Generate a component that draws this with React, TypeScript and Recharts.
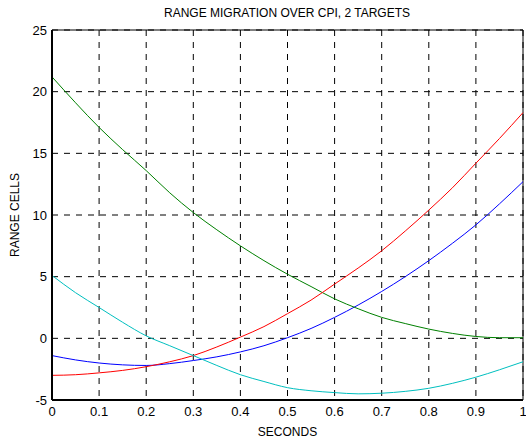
import React from "react";
import { LineChart, Line, XAxis, YAxis, CartesianGrid, ReferenceArea, Label } from "recharts";

const seconds = [0, 0.05, 0.1, 0.15, 0.2, 0.25, 0.3, 0.35, 0.4, 0.45, 0.5, 0.55, 0.6, 0.65, 0.7, 0.75, 0.8, 0.85, 0.9, 0.95, 1.0];
const blueSeries = [-1.4, -1.75, -2.0, -2.15, -2.2, -2.05, -1.8, -1.5, -1.1, -0.6, 0.05, 0.8, 1.7, 2.7, 3.8, 5.0, 6.3, 7.7, 9.2, 10.9, 12.7];
const greenSeries = [21.2, 19.1, 17.1, 15.3, 13.6, 11.8, 10.2, 8.8, 7.5, 6.3, 5.2, 4.2, 3.2, 2.4, 1.7, 1.2, 0.75, 0.4, 0.15, 0.05, 0.05];
const redSeries = [-3.0, -2.95, -2.8, -2.6, -2.3, -1.9, -1.4, -0.7, 0.1, 0.95, 2.0, 3.1, 4.4, 5.7, 7.1, 8.7, 10.4, 12.2, 14.2, 16.2, 18.3];
const cyanSeries = [5.1, 3.7, 2.5, 1.3, 0.2, -0.6, -1.4, -2.2, -2.95, -3.5, -4.0, -4.25, -4.4, -4.5, -4.45, -4.3, -4.05, -3.65, -3.15, -2.55, -1.9];

const xTicks = [0, 0.1, 0.2, 0.3, 0.4, 0.5, 0.6, 0.7, 0.8, 0.9, 1];
const yTicks = [-5, 0, 5, 10, 15, 20, 25];

const data = seconds.map((t, i) => ({
  t,
  blue: blueSeries[i],
  green: greenSeries[i],
  red: redSeries[i],
  cyan: cyanSeries[i],
}));

const font = "'Liberation Sans', Arial, Helvetica, sans-serif";

export default function App() {
  return (
    <div style={{ position: "absolute", left: 0, top: 0, width: 526, height: 441, background: "#fff" }}>
      <LineChart width={526} height={441} data={data} margin={{ top: 30, right: 3, bottom: 0, left: 0 }}>
        <text x={287} y={17} textAnchor="middle" fontFamily={font} fontSize={12} fill="#000">
          RANGE MIGRATION OVER CPI, 2 TARGETS
        </text>
        <CartesianGrid stroke="#000" strokeDasharray="6 6" strokeWidth={1} />
        <XAxis
          dataKey="t"
          type="number"
          domain={[0, 1]}
          ticks={xTicks}
          tickFormatter={(v: number) => String(v)}
          height={41}
          tickSize={0}
          tickMargin={7}
          axisLine={{ stroke: "#000", strokeWidth: 2 }}
          tick={{ fill: "#000", fontSize: 13, fontFamily: font }}
          interval={0}
        >
          <Label value="SECONDS" position="insideBottom" offset={5} fill="#000" fontSize={12} fontFamily={font} />
        </XAxis>
        <YAxis
          type="number"
          domain={[-5, 25]}
          ticks={yTicks}
          width={52}
          tickSize={0}
          tickMargin={5}
          axisLine={{ stroke: "#000", strokeWidth: 2 }}
          tick={{ fill: "#000", fontSize: 13, fontFamily: font }}
          interval={0}
        >
          <Label value="RANGE CELLS" angle={-90} position="insideLeft" offset={15} fill="#000" fontSize={12} fontFamily={font} style={{ textAnchor: "middle" }} />
        </YAxis>
        <ReferenceArea x1={0} x2={1} y1={-5} y2={25} fill="none" stroke="#000" strokeWidth={1} ifOverflow="visible" />
        <Line type="monotone" dataKey="blue" stroke="#0000ff" strokeWidth={1} dot={false} isAnimationActive={false} />
        <Line type="monotone" dataKey="green" stroke="#008000" strokeWidth={1} dot={false} isAnimationActive={false} />
        <Line type="monotone" dataKey="red" stroke="#ff0000" strokeWidth={1} dot={false} isAnimationActive={false} />
        <Line type="monotone" dataKey="cyan" stroke="#00bfbf" strokeWidth={1} dot={false} isAnimationActive={false} />
      </LineChart>
    </div>
  );
}
